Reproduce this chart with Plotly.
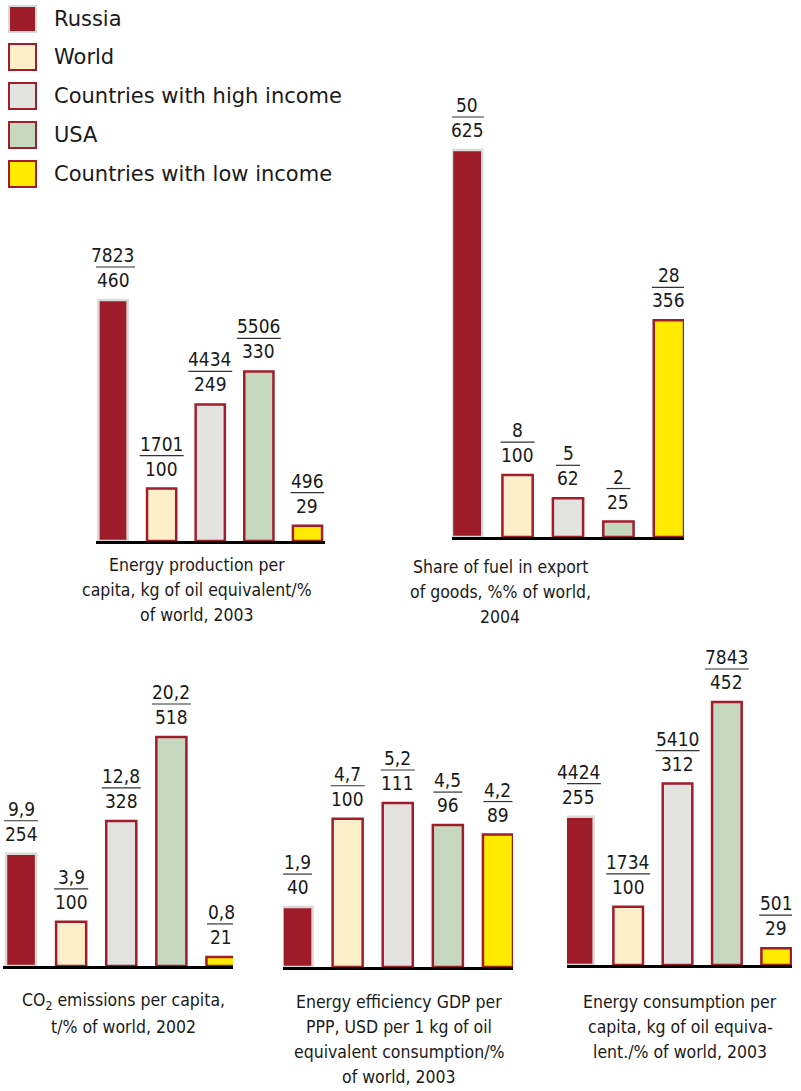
import plotly.graph_objects as go

W, H = 801, 1091

groups = ["Russia", "World", "Countries with high income", "USA", "Countries with low income"]
fills = ["#9E1C2A", "#FDEFC9", "#E3E3DF", "#C6D9C0", "#FFEB00"]
edges = ["#D9D9D6", "#A01D2C", "#A01D2C", "#A01D2C", "#A01D2C"]

# values per panel: main value and % of world
prod_val = [7823, 1701, 4434, 5506, 496]
prod_pct = ["460", "100", "249", "330", "29"]
prod_lbl = ["7823", "1701", "4434", "5506", "496"]

fuel_val = [50, 8, 5, 2, 28]
fuel_pct = ["625", "100", "62", "25", "356"]
fuel_lbl = ["50", "8", "5", "2", "28"]

co2_val = [9.9, 3.9, 12.8, 20.2, 0.8]
co2_pct = ["254", "100", "328", "518", "21"]
co2_lbl = ["9,9", "3,9", "12,8", "20,2", "0,8"]

eff_val = [1.9, 4.7, 5.2, 4.5, 4.2]
eff_pct = ["40", "100", "111", "96", "89"]
eff_lbl = ["1,9", "4,7", "5,2", "4,5", "4,2"]

cons_val = [4424, 1734, 5410, 7843, 501]
cons_pct = ["255", "100", "312", "452", "29"]
cons_lbl = ["4424", "1734", "5410", "7843", "501"]

titles = [
    ["Energy production per", "capita, kg of oil equivalent/%", "of world, 2003"],
    ["Share of fuel in export", "of goods, %% of world,", "2004"],
    ["CO<sub>2</sub> emissions per capita,", "t/% of world, 2002"],
    ["Energy efficiency GDP per", "PPP, USD per 1 kg of oil", "equivalent consumption/%", "of world, 2003"],
    ["Energy consumption per", "capita, kg of oil equiva-", "lent./% of world, 2003"],
]

panels = [
    # values, labels, pcts, x-domain px, x-range, baseline px, top px of max bar, title center x px, first title line y px
    (prod_val, prod_lbl, prod_pct, (96, 324.5), (-0.35, 4.35), 541, 300, 197, 565),
    (fuel_val, fuel_lbl, fuel_pct, (452, 684), (-0.3, 4.3), 537, 150, 500, 567),
    (co2_val, co2_lbl, co2_pct, (3, 233), (-0.36, 4.23), 966, 737, 124, 1002),
    (eff_val, eff_lbl, eff_pct, (283, 513), (-0.29, 4.3), 967, 803, 399, 1002),
    (cons_val, cons_lbl, cons_pct, (567, 792), (-0.24, 4.32), 965, 702, 680, 1002),
]

FAM = "DejaVu Sans Condensed, Liberation Sans Narrow, Liberation Sans, Arial"
NUMFONT = dict(family=FAM, size=19, color="#1a1a1a")
TFONT = dict(family=FAM, size=17.5, color="#1a1a1a")
LINE_GAP = 25

def px_x(x):
    return x / W

def px_y(y):
    return 1 - y / H

def text_w(s):
    return sum(5 if c == "," else 10 for c in s)

fig = go.Figure()
annotations = []
shapes = []
HEAD = 70  # extra room above the tallest bar for the fraction labels

for p, (vals, lbls, pcts, xd, xr, base, top, tcx, tty) in enumerate(panels):
    n = p + 1
    xa = "x" if n == 1 else f"x{n}"
    ya = "y" if n == 1 else f"y{n}"
    xs = list(range(len(vals)))
    fig.add_trace(go.Bar(
        x=xs, y=vals, xaxis=xa, yaxis=ya, width=0.6,
        marker=dict(color=fills, line=dict(color=edges, width=2.5)),
        showlegend=False, hoverinfo="skip", cliponaxis=False,
    ))
    fig.layout[f"xaxis{n if n > 1 else ''}"] = dict(
        domain=[px_x(xd[0]), px_x(xd[1])], range=list(xr), anchor=ya,
        showline=True, linecolor="black", linewidth=2.5, showgrid=False,
        showticklabels=False, ticks="", zeroline=False, fixedrange=True,
    )
    ymax = max(vals) * (base - (top - HEAD)) / (base - top)
    fig.layout[f"yaxis{n if n > 1 else ''}"] = dict(
        domain=[px_y(base), px_y(top - HEAD)], range=[0, ymax], anchor=xa,
        visible=False, fixedrange=True,
    )
    for i, v in enumerate(vals):
        annotations.append(dict(x=i, y=v, xref=xa, yref=ya, text=lbls[i], showarrow=False,
                                yanchor="middle", xanchor="center", yshift=45, font=NUMFONT))
        annotations.append(dict(x=i, y=v, xref=xa, yref=ya, text=pcts[i], showarrow=False,
                                yanchor="middle", xanchor="center", yshift=20, font=NUMFONT))
        w = max(text_w(lbls[i]), text_w(pcts[i])) + 4
        shapes.append(dict(type="line", xref=xa, yref=ya, xsizemode="pixel", ysizemode="pixel",
                           xanchor=i, yanchor=v, x0=-w / 2, x1=w / 2, y0=33, y1=33,
                           line=dict(color="#333", width=1.2)))
    for k, line in enumerate(titles[p]):
        annotations.append(dict(x=px_x(tcx), y=px_y(tty + k * LINE_GAP), xref="paper", yref="paper",
                                text=line, showarrow=False, xanchor="center", yanchor="middle",
                                align="center", font=TFONT))

# legend
leg_y = [19, 57, 96, 135, 174]
for g, c, e, y in zip(groups, fills, edges, leg_y):
    shapes.append(dict(type="rect", xref="paper", yref="paper",
                       x0=px_x(9), x1=px_x(36), y0=px_y(y + 13), y1=px_y(y - 13),
                       fillcolor=c, line=dict(color=e, width=2)))
    annotations.append(dict(x=px_x(52), y=px_y(y), xref="paper", yref="paper", text=g,
                            showarrow=False, xanchor="left", yanchor="middle",
                            font=dict(family="DejaVu Sans, Arial", size=21, color="#1a1a1a")))

fig.update_layout(
    width=W, height=H, margin=dict(l=0, r=0, t=0, b=0),
    paper_bgcolor="white", plot_bgcolor="rgba(0,0,0,0)",
    annotations=annotations, shapes=shapes, bargap=0.3,
)

fig.write_html("out.html")
